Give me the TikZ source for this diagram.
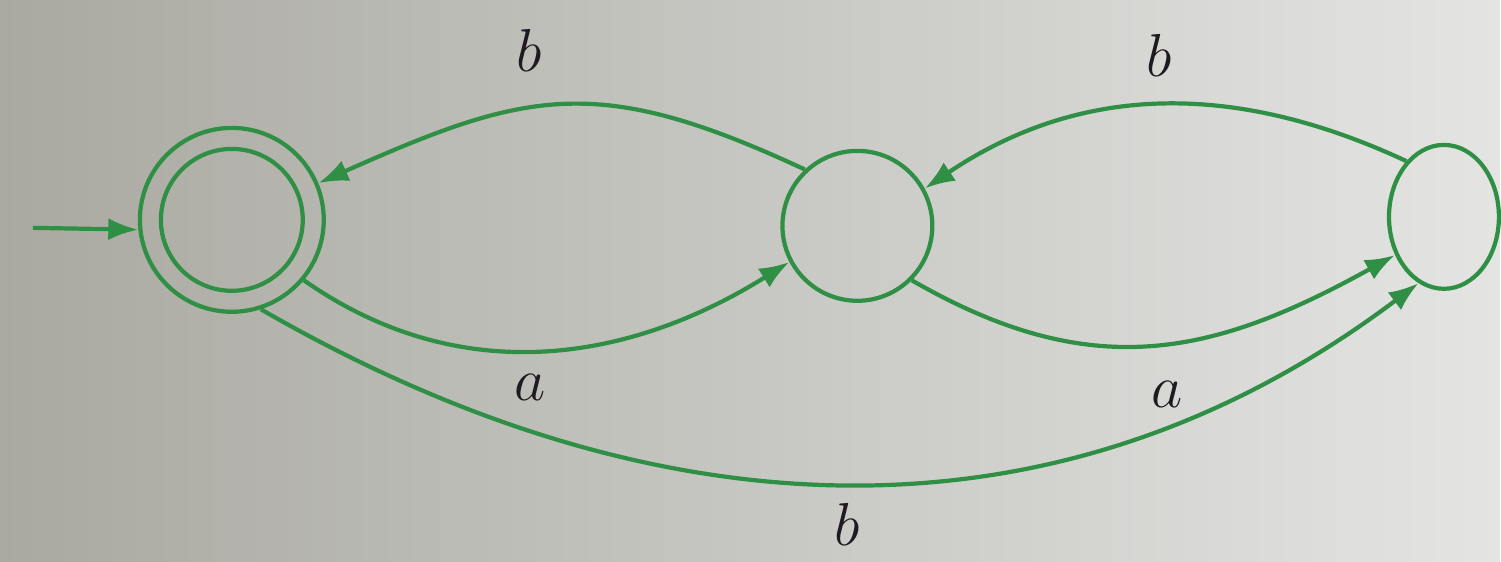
\documentclass[tikz,border=0pt]{standalone}
\usepackage{xcolor}
\usepackage{tikz}
\usetikzlibrary{arrows.meta,shapes.geometric}
\definecolor{pagedark}{HTML}{A9A9A1}
\definecolor{pagemid}{HTML}{D2D4CF}
\definecolor{pagelight}{HTML}{E4E5E3}
\definecolor{edgegreen}{HTML}{2F8F45}
\definecolor{labelink}{HTML}{1E1A20}

\begin{document}
\begin{tikzpicture}[
    state/.style={circle,draw=edgegreen,line width=1.2pt,inner sep=0pt},
    trans/.style={draw=edgegreen,line width=1.2pt,-{Latex[length=3mm,width=2.2mm]}},
    sym/.style={font=\fontsize{18}{20}\selectfont,text=labelink}
  ]
  \fill[left color=pagedark,middle color=pagemid,right color=pagelight] (0,0) rectangle (15.01,5.62);
  \node[state,minimum size=1.84cm] (q0) at (2.32,3.42) {};
  \node[state,minimum size=1.42cm] (q0in) at (2.32,3.42) {};
  \node[state,minimum size=1.5cm] (q1) at (8.58,3.36) {};
  \node[state,ellipse,minimum width=1.1cm,minimum height=1.44cm] (q2) at (14.45,3.45) {};
  \coordinate (init) at (0.33,3.34);
  \draw[trans] (init) -- (q0.186);
  \draw[trans] (q1.133) to[out=155,in=24,looseness=1.2] (q0.23);
  \draw[trans] (q0.-40) to[out=-35,in=-148] (q1.208);
  \draw[trans] (q2.124) to[out=155,in=34] (q1.29);
  \draw[trans] (q1.-45) to[out=-30,in=-151,looseness=1.1] (q2.-142);
  \draw[trans] (q0.-72) to[out=-30,in=-143] (q2.-111);
  \node[sym] (lb01) at (5.30,5.12) {$b$};
  \node[sym] (la01) at (5.30,1.74) {$a$};
  \node[sym] (lb12) at (11.60,5.07) {$b$};
  \node[sym] (la12) at (11.68,1.67) {$a$};
  \node[sym] (lb02) at (8.48,0.37) {$b$};
\end{tikzpicture}
\end{document}
